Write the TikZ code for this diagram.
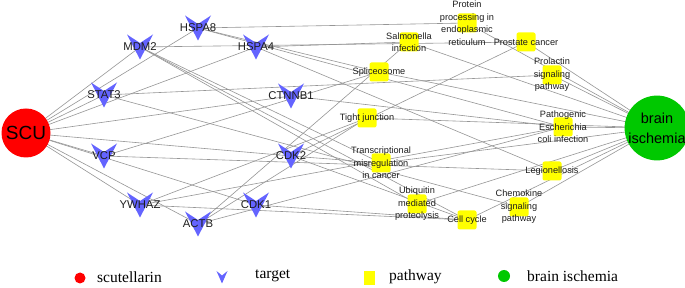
\documentclass[tikz,border=0pt]{standalone}
\usepackage{fontspec}
\setmainfont{Liberation Sans}
\newfontfamily\legfont{Liberation Serif}
\usetikzlibrary{backgrounds}
\definecolor{edgegray}{RGB}{150,150,150}
\definecolor{tgblue}{RGB}{100,100,255}
\definecolor{pwyellow}{RGB}{255,255,0}
\definecolor{scured}{RGB}{255,0,0}
\definecolor{bigreen}{RGB}{0,200,0}
\definecolor{labtext}{RGB}{30,30,30}
\begin{document}
\begin{tikzpicture}[x=1pt,y=-1pt,
  edge/.style={draw=edgegray, line width=0.6pt},
  pwbox/.style={fill=pwyellow, minimum size=19pt, inner sep=0pt, rounded corners=2pt},
  pwlabel/.style={font=\fontsize{9.2}{12.5}\selectfont, align=center, text=labtext, inner sep=0pt},
  tglabel/.style={font=\fontsize{11.3}{13}\selectfont, text=labtext, inner sep=0pt},
  leglabel/.style={font=\legfont\fontsize{15.5}{18}\selectfont, text=black, inner sep=0pt, anchor=west},
  chev/.pic={\fill[tgblue] (-13,-12.5) -- (0,-4) -- (13,-12.5) -- (0,12.5) -- cycle;},
  smallchev/.pic={\fill[tgblue] (-5.5,-6) -- (0,-1.5) -- (5.5,-6) -- (0,6.5) -- cycle;}
]
\useasboundingbox (0,0) rectangle (685,288);

% hubs
\node[circle, fill=scured, minimum size=49pt, inner sep=0pt, font=\fontsize{19}{22}\selectfont] (SCU) at (26,133) {SCU};
\node[circle, fill=bigreen, minimum size=49pt, inner sep=0pt, align=center, font=\fontsize{14.5}{20}\selectfont] (BI) at (657,128) {brain\\ischemia};

% targets
\foreach \n/\x/\y in {HSPA8/198/28, MDM2/140/47, HSPA4/256/47, STAT3/104/95, CTNNB1/291/96,
                      VCP/104/156, CDK2/291/156, YWHAZ/140/205, CDK1/256/205, ACTB/198/224}{
  \coordinate (\n) at (\x,\y);
  \pic at (\n) {chev};
  \node[tglabel] (\n l) at (\n) {\n};
}

% pathways
\node[pwbox] (PP) at (467,23) {};
\node[pwbox] (Sal) at (409,42) {};
\node[pwbox] (Pros) at (526,42) {};
\node[pwbox] (Spl) at (379,72) {};
\node[pwbox] (Prol) at (552,75) {};
\node[pwbox] (TJ) at (367,118) {};
\node[pwbox] (PE) at (563,127) {};
\node[pwbox] (TM) at (381,163) {};
\node[pwbox] (Leg) at (552,171) {};
\node[pwbox] (Ubi) at (417,204) {};
\node[pwbox] (Chem) at (519,207) {};
\node[pwbox] (CC) at (467,220) {};

\node[pwlabel] (PPl) at (PP) {Protein\\processing in\\endoplasmic\\reticulum};
\node[pwlabel] (Sall) at (Sal) {Salmonella\\infection};
\node[pwlabel] (Prosl) at (Pros) {Prostate cancer};
\node[pwlabel] (Spll) at (Spl) {Spliceosome};
\node[pwlabel] (Proll) at (Prol) {Prolactin\\signaling\\pathway};
\node[pwlabel] (TJl) at (TJ) {Tight junction};
\node[pwlabel] (PEl) at (PE) {Pathogenic\\Escherichia\\coli infection};
\node[pwlabel] (TMl) at (TM) {Transcriptional\\misregulation\\in cancer};
\node[pwlabel] (Legl) at (Leg) {Legionellosis};
\node[pwlabel] (Ubil) at (Ubi) {Ubiquitin\\mediated\\proteolysis};
\node[pwlabel] (Cheml) at (Chem) {Chemokine\\signaling\\pathway};
\node[pwlabel] (CCl) at (CC) {Cell cycle};

% edges
\begin{scope}[on background layer]
  \fill[white] (0,0) rectangle (685,288);
  \foreach \t in {HSPA8, MDM2, HSPA4, STAT3, CTNNB1, VCP, CDK2, YWHAZ, CDK1, ACTB}
    \draw[edge] (SCU.center) -- (\t);
  \foreach \p in {PP, Sal, Pros, Spl, Prol, TJ, PE, TM, Leg, Ubi, Chem, CC}
    \draw[edge] (\p.center) -- (BI.center);
  \foreach \a/\b in {HSPA8/PP, HSPA8/Spl, HSPA8/PE,
                     HSPA4/Sal, HSPA4/Leg,
                     MDM2/Pros, MDM2/TM, MDM2/Ubi, MDM2/CC,
                     STAT3/Prol, STAT3/Chem,
                     CTNNB1/PE,
                     VCP/Spl, VCP/Leg,
                     CDK2/Pros, CDK2/TM, CDK2/CC,
                     YWHAZ/PE, YWHAZ/TJ, YWHAZ/CC,
                     CDK1/CC,
                     ACTB/Sal, ACTB/PE, ACTB/TJ}
    \draw[edge] (\a) -- (\b.center);
\end{scope}

% legend
\node[circle, fill=scured, minimum size=11pt, inner sep=0pt] (LS) at (80,278) {};
\node[leglabel] (LSt) at (97,277) {scutellarin};
\coordinate (LT) at (222,277);
\pic at (LT) {smallchev};
\node[leglabel] (LTt) at (255,276) {target};
\node[fill=pwyellow, minimum width=11pt, minimum height=13pt, inner sep=0pt] (LP) at (369,278) {};
\node[leglabel] (LPt) at (389,277) {pathway};
\node[circle, fill=bigreen, minimum size=12pt, inner sep=0pt] (LB) at (504,276) {};
\node[leglabel] (LBt) at (527,276) {brain ischemia};
\end{tikzpicture}
\end{document}
